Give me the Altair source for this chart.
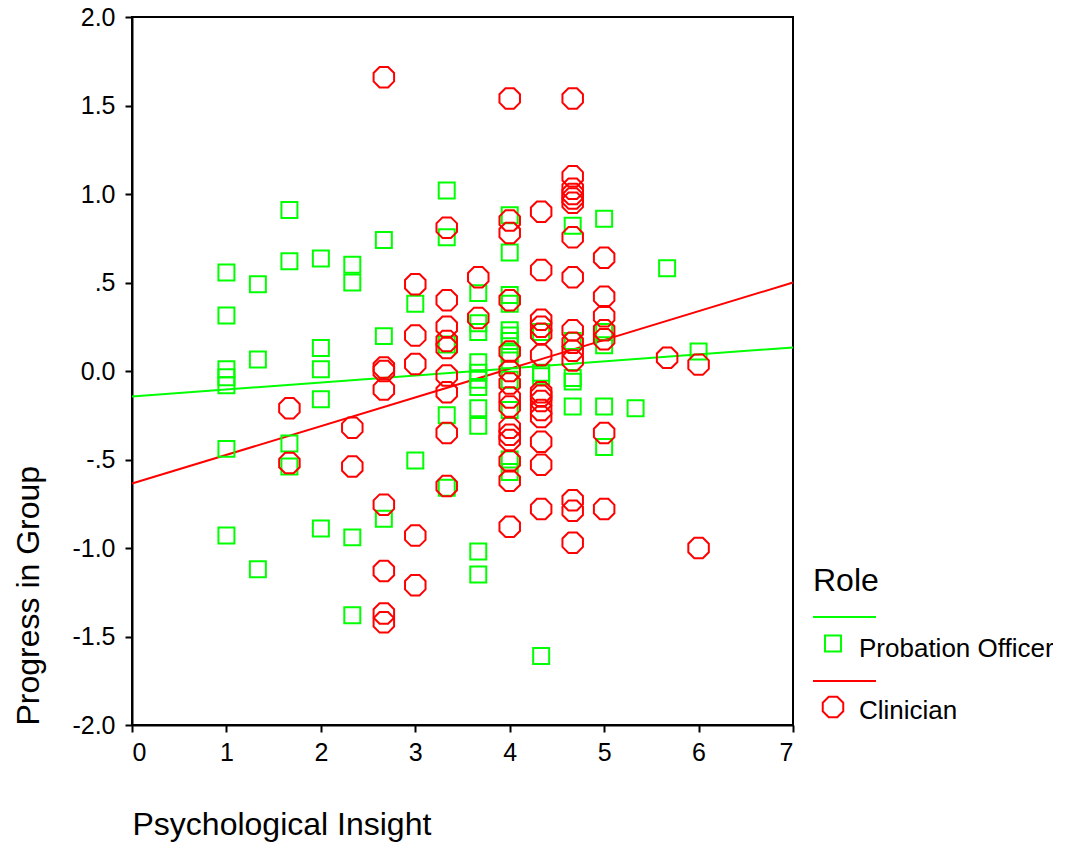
import altair as alt
import pandas as pd

# Probation Officer points (x = Psychological Insight, y = Progress in Group)
po_x = [1]*7 + [1.333]*3 + [1.667]*4 + [2]*5 + [2.333]*4 + [2.667]*3 + [3]*2 + [3.333]*5 \
    + [3.667]*11 + [4]*13 + [4.333]*4 + [4.667]*5 + [5]*5 + [5.333] + [5.667] + [6]
po_y = [0.557, 0.314, 0.01, -0.035, -0.08, -0.44, -0.93,
        0.49, 0.065, -1.12,
        0.91, 0.62, -0.41, -0.54,
        0.636, 0.13, 0.01, -0.16, -0.89,
        0.6, 0.5, -0.94, -1.38,
        0.74, 0.197, -0.835,
        0.38, -0.506,
        1.02, 0.755, 0.15, -0.25, -0.66,
        0.44, 0.27, 0.22, 0.05, -0.01, -0.05, -0.09, -0.21, -0.31, -1.02, -1.15,
        0.88, 0.67, 0.43, 0.38, 0.23, 0.2, 0.17, 0.1, 0.06, -0.05, -0.22, -0.5, -0.57,
        0.22, -0.01, -0.03, -1.61,
        0.82, 0.17, -0.04, -0.06, -0.2,
        0.86, 0.22, 0.145, -0.2, -0.43,
        -0.21,
        0.58,
        0.11]

# Clinician points
cl_x = [1.667]*2 + [2.333]*2 + [2.667]*8 + [3]*5 + [3.333]*9 + [3.667]*2 + [4]*15 \
    + [4.333]*14 + [4.667]*15 + [5]*7 + [5.667] + [6]*2
cl_y = [-0.21, -0.52,
        -0.32, -0.54,
        1.66, 0.02, 0.0, -0.105, -0.755, -1.13, -1.37, -1.42,
        0.49, 0.2, 0.04, -0.93, -1.21,
        0.81, 0.40, 0.25, 0.17, 0.13, -0.025, -0.12, -0.35, -0.65,
        0.53, 0.30,
        1.54, 0.85, 0.78, 0.40, 0.11, 0.0, -0.07, -0.15, -0.2, -0.32, -0.36, -0.39, -0.51, -0.62, -0.88,
        0.9, 0.57, 0.29, 0.25, 0.21, 0.09, -0.12, -0.14, -0.17, -0.22, -0.26, -0.4, -0.53, -0.78,
        1.54, 1.1, 1.03, 1.0, 0.975, 0.95, 0.755, 0.53, 0.23, 0.16, 0.115, 0.06, -0.73, -0.79, -0.97,
        0.64, 0.42, 0.31, 0.23, 0.18, -0.35, -0.78,
        0.075,
        0.036, -1.0]

# Fit lines
fit_x = [0, 7]
po_fit = [-0.144, 0.133]
cl_fit = [-0.636, 0.50]

roles = ["Probation Officer", "Clinician"]
colors = ["#00ff00", "#ff0000"]
legend_title = ["Role"]
x_ticks = [0, 1, 2, 3, 4, 5, 6, 7]
y_ticks = [-2.0, -1.5, -1.0, -0.5, 0.0, 0.5, 1.0, 1.5, 2.0]

pts = pd.concat([
    pd.DataFrame({"x": po_x, "y": po_y, "Role": roles[0]}),
    pd.DataFrame({"x": cl_x, "y": cl_y, "Role": roles[1]}),
], ignore_index=True)
fits = pd.concat([
    pd.DataFrame({"x": fit_x, "y": po_fit, "Role": roles[0]}),
    pd.DataFrame({"x": fit_x, "y": cl_fit, "Role": roles[1]}),
], ignore_index=True)

SQUARE = "M-0.78,-0.78L0.78,-0.78L0.78,0.78L-0.78,0.78Z"
OCTAGON = "M-0.414,-1L0.414,-1L1,-0.414L1,0.414L0.414,1L-0.414,1L-1,0.414L-1,-0.414Z"
shapes = [SQUARE, OCTAGON]
FONT = "Liberation Sans"

xs = alt.X("x:Q", scale=alt.Scale(domain=[0, 7], nice=False),
           axis=alt.Axis(values=x_ticks, title="Psychological Insight", titleAnchor="start",
                         titleFontSize=32, titleFontWeight="normal", titlePadding=44,
                         labelFontSize=25, labelPadding=8, format="d"))
ys = alt.Y("y:Q", scale=alt.Scale(domain=[-2, 2], nice=False),
           axis=alt.Axis(values=y_ticks, title="Progress in Group", titleAnchor="start",
                         titleFontSize=32, titleFontWeight="normal", titlePadding=26,
                         labelFontSize=25, labelPadding=10,
                         labelExpr="(datum.value < 0 ? '-' : '') + (abs(datum.value) == 0.5 ? '.5' : format(abs(datum.value), '.1f'))"))

color = alt.Color("Role:N", scale=alt.Scale(domain=roles, range=colors), legend=None)
shape = alt.Shape("Role:N", scale=alt.Scale(domain=roles, range=shapes), legend=None)

points = alt.Chart(pts).mark_point(filled=False, strokeWidth=2, size=420, opacity=1).encode(
    x=xs, y=ys, color=color, shape=shape)

lines = alt.Chart(fits).mark_line(strokeWidth=2).encode(
    x="x:Q", y="y:Q", color=color, detail="Role:N")

# Legend (drawn beside the plot, like the original's key)
LX = 681
legend_layers = [
    alt.Chart(pd.DataFrame({"t": legend_title})).mark_text(
        align="left", baseline="alphabetic", fontSize=32, font=FONT, color="black"
    ).encode(text="t:N", x=alt.value(LX), y=alt.value(574)),
]
entry_y = [(600, 626.6, 639.5), (664, 690, 701.5)]
for role, col, shp, (ly, sy, ty) in zip(roles, colors, shapes, entry_y):
    d = pd.DataFrame({"Role": [role]})
    legend_layers += [
        alt.Chart(d).mark_rule(color=col, strokeWidth=2).encode(
            x=alt.value(LX), x2=alt.value(LX + 63), y=alt.value(ly)),
        alt.Chart(d).mark_point(filled=False, strokeWidth=2, size=420, opacity=1,
                                color=col, shape=shp).encode(
            x=alt.value(LX + 20), y=alt.value(sy)),
        alt.Chart(d).mark_text(align="left", baseline="alphabetic", fontSize=26,
                               font=FONT, color="black").encode(
            text="Role:N", x=alt.value(LX + 46), y=alt.value(ty)),
    ]

chart = alt.layer(lines, points, *legend_layers).properties(
    width=661, height=708,
    autosize=alt.AutoSizeParams(type="none"),
    padding={"left": 124, "top": 9, "right": 260, "bottom": 120},
).configure(font=FONT).configure_view(
    stroke="black", strokeWidth=2
).configure_axis(
    grid=False, domainColor="black", domainWidth=2, tickColor="black", tickWidth=2, tickSize=7,
    labelColor="black", titleColor="black", labelFont=FONT, titleFont=FONT
)

chart.save("out.html", embed_options={"renderer": "svg", "actions": False})
